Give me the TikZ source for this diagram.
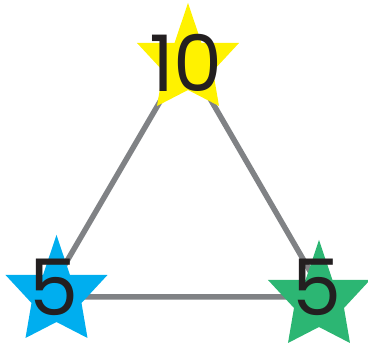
\documentclass[tikz,border=0pt]{standalone}
\usepackage{fontspec}
\setmainfont{Poppins}
\definecolor{starY}{RGB}{255,242,0}
\definecolor{starB}{RGB}{0,174,239}
\definecolor{starG}{RGB}{44,182,115}
\definecolor{edgegray}{RGB}{128,130,133}
\definecolor{digit}{RGB}{35,31,32}
\tikzset{
  starpic/.pic={\path[pic actions] (0,-40) -- (13.5,0) -- (51,0) -- (25,28) -- (31,63) -- (0,47) -- (-31,63) -- (-25,28) -- (-51,0) -- (-13.5,0) -- cycle;},
  edge/.style={draw=edgegray, line width=5.5pt},
  numlabel/.style={text=digit, inner sep=0pt, font=\fontsize{78}{78}\selectfont},
}
\begin{document}
\begin{tikzpicture}[x=1pt,y=-1pt]
\useasboundingbox (0,0) rectangle (368,345);
\coordinate (A) at (186,57);
\coordinate (B) at (46,297);
\coordinate (C) at (325,297);
\draw[edge] (A) -- (B) -- (C) -- cycle;
\pic[fill=starY] at (188,43) {starpic};
\pic[fill=starB] at (56.5,275) {starpic};
\pic[fill=starG] at (319,280) {starpic};
\node[numlabel] (ten) at (186,63) {10};
\node[numlabel] (fiveL) at (54,287) {5};
\node[numlabel] (fiveR) at (317,287) {5};
\end{tikzpicture}
\end{document}
